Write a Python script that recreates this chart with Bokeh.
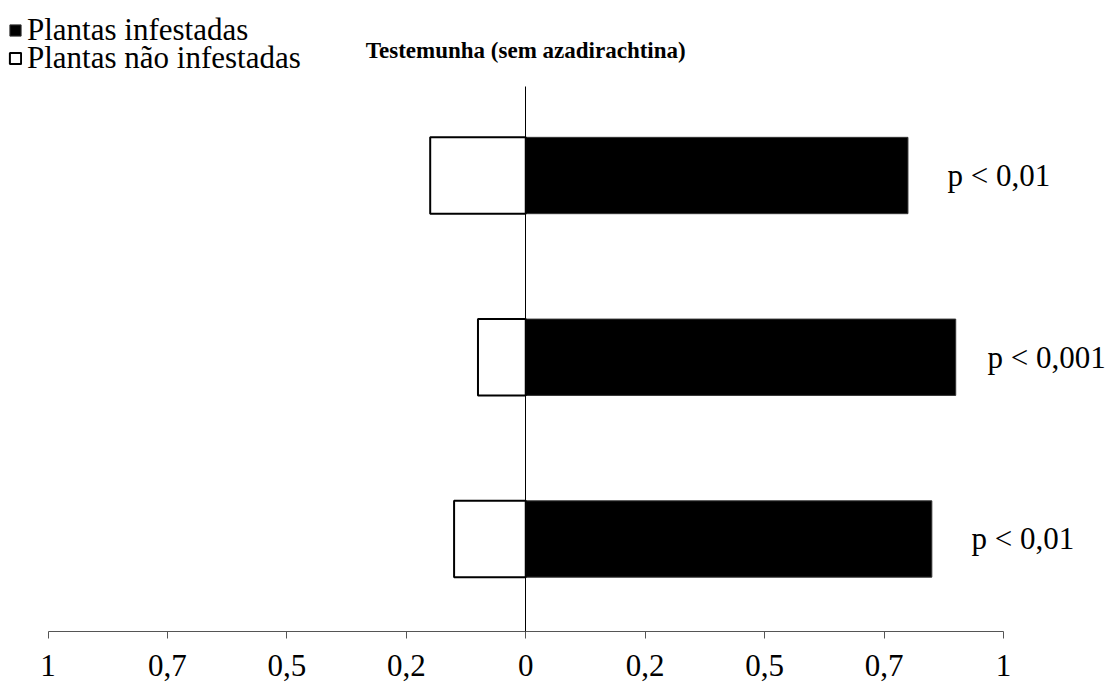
from bokeh.plotting import figure
from bokeh.models import Range1d, Legend, LegendItem, FixedTicker, ColumnDataSource, Label
from bokeh.core.properties import value
from bokeh.embed import file_html
from bokeh.resources import INLINE

# data
rows = [1, 2, 3]
infestadas = [0.80, 0.90, 0.85]
nao_infestadas = [0.20, 0.10, 0.15]
p_labels = ["p < 0,01", "p < 0,001", "p < 0,01"]
tick_values = [-1, -0.75, -0.5, -0.25, 0, 0.25, 0.5, 0.75, 1]
tick_labels = ["1", "0,7", "0,5", "0,2", "0", "0,2", "0,5", "0,7", "1"]
title_text = "Testemunha (sem azadirachtina)"
legend_labels = ["Plantas infestadas", "Plantas não infestadas"]

FONT = "Liberation Serif"

src = ColumnDataSource(dict(
    y=rows,
    inf=infestadas,
    non_neg=[-v for v in nao_infestadas],
    zero=[0] * len(rows),
    plab=p_labels,
))

W, H = 1108, 682
PX = 477.75  # pixels per x unit
x0 = -1 - 47.5 / PX
x1 = 1 + (W - 1003) / PX

p = figure(width=W, height=H, output_backend="svg", toolbar_location=None,
           x_range=Range1d(x0, x1), y_range=Range1d(3.509, 0.037),
           min_border_left=0, min_border_right=0,
           min_border_top=0, min_border_bottom=51)
p.outline_line_color = None
p.xgrid.visible = False
p.ygrid.visible = False
p.background_fill_color = "white"
p.border_fill_color = "white"

r_inf = p.hbar(y="y", left="zero", right="inf", height=0.42, source=src,
               fill_color="black", line_color="#333333", line_width=1)
r_non = p.hbar(y="y", left="non_neg", right="zero", height=0.42, source=src,
               fill_color="white", line_color="black", line_width=2)

p.text(x="inf", y="y", text="plab", source=src, x_offset=91,
       text_align="center", text_baseline="middle",
       text_font=value(FONT), text_font_size="31px", text_color="black")

# vertical zero line as a y axis fixed at x = 0
yax = p.yaxis[0]
yax.fixed_location = 0
yax.bounds = (0.51, 3.6)
yax.ticker = FixedTicker(ticks=[])
yax.major_tick_out = 0
yax.major_tick_in = 0
yax.minor_tick_line_color = None
yax.major_label_text_font_size = "0px"
yax.axis_line_color = "black"

ax = p.xaxis[0]
ax.bounds = (-1, 1)
ax.ticker = FixedTicker(ticks=tick_values)
ax.major_label_overrides = {v: l for v, l in zip(tick_values, tick_labels)}
ax.minor_tick_line_color = None
ax.major_tick_in = 0
ax.major_tick_out = 7
ax.major_label_standoff = 16
ax.axis_line_color = "#555555"
ax.major_tick_line_color = "#555555"
ax.major_label_text_font = FONT
ax.major_label_text_font_size = "31px"
ax.major_label_text_color = "black"

p.add_layout(Label(x=0, y=0.31, text=title_text, text_align="center",
                   text_baseline="alphabetic", text_font=FONT,
                   text_font_size="23px", text_font_style="bold",
                   text_color="black"))

common = dict(glyph_width=14, glyph_height=14, label_standoff=5, padding=0,
              margin=0, label_text_font=FONT, label_text_font_size="31px",
              label_text_color="black", border_line_color=None,
              background_fill_alpha=0)
leg1 = Legend(items=[LegendItem(label=legend_labels[0], renderers=[r_inf])],
              location=(8, 583), **common)
leg2 = Legend(items=[LegendItem(label=legend_labels[1], renderers=[r_non])],
              location=(8, 555), **common)
p.add_layout(leg1, "center")
p.add_layout(leg2, "center")

open("out.html", "w").write(file_html(p, INLINE))
